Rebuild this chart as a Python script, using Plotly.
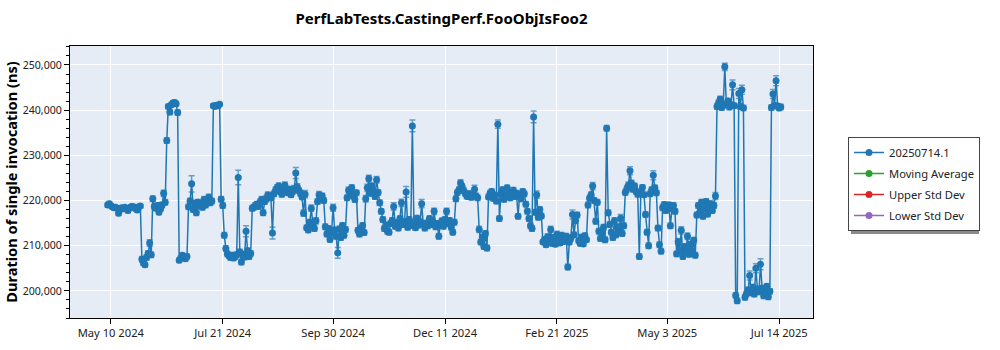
import pandas as pd
import plotly.graph_objects as go

# ---------------- data ----------------
series_name = "20250714.1"
start_date = "2024-05-08"

# daily mean durations, in thousands of ns
durations_k = [
    219.0, 219.3, 218.9, 218.6, 218.4, 218.5, 218.3, 217.2, 218.0, 218.4, 218.2, 218.5, 218.1, 217.8, 218.3, 218.6, 218.7, 218.5, 218.2, 217.9, 218.6, 218.8,
    207.0, 206.2, 205.8, 207.4, 208.3, 210.6, 208.0,
    220.4, 218.7, 218.3, 218.9, 217.4, 218.2, 219.0, 221.6, 219.6, 233.3,
    240.8, 239.6, 241.2, 241.6, 241.7, 241.4, 239.5,
    206.8, 207.3, 207.9, 207.5, 207.1, 207.6,
    218.6, 219.9, 223.7, 218.0, 219.4, 217.3, 219.6, 218.8, 219.3, 218.5, 220.2, 219.0, 219.8, 220.7, 219.5, 219.9,
    241.0, 240.8, 241.1, 241.0, 241.3,
    220.3, 218.9,
    212.3, 209.4, 208.2, 207.8, 207.4, 207.9, 207.3, 207.6, 208.0, 225.1, 208.6, 206.4, 208.1, 207.5, 213.2, 208.9, 207.6, 208.3,
    218.3, 218.5, 218.9, 219.2, 218.7, 219.6, 220.2, 217.3, 219.8, 220.4, 221.2,
    221.0, 220.6, 212.8, 221.5, 222.3, 222.8, 223.2, 222.0, 221.4, 222.6, 223.4, 222.1, 221.7, 222.5, 221.3, 222.0, 222.6, 226.1, 223.0, 222.2, 221.6, 220.8,
    217.2, 221.4, 214.0, 213.5, 215.2, 218.3, 214.6, 213.8, 215.5,
    219.8, 221.3, 220.4, 221.0, 220.0,
    214.2, 212.6, 213.8, 211.4, 212.9, 218.4, 213.5, 212.1, 208.4, 213.7, 211.8, 214.5, 212.3, 213.6,
    220.6, 222.3, 221.5, 222.8, 221.0, 220.2, 221.7,
    213.4, 212.6, 213.9, 214.5, 212.9,
    220.4, 222.8, 224.9, 221.6, 223.2, 222.0, 220.9, 224.6, 221.8, 219.5, 217.6,
    215.8, 213.8, 214.6, 213.2, 213.0, 214.9, 215.6, 218.7, 214.3, 215.1, 213.9, 216.0, 219.5, 214.7, 215.3, 221.9,
    214.1, 215.8, 214.5, 236.5, 215.2, 214.0, 216.1, 214.6, 215.3, 219.3, 214.8, 213.9, 215.0, 214.4, 216.0, 214.7,
    215.4, 217.6, 214.2, 214.9, 212.1, 214.6, 215.5, 214.3, 215.8, 217.6, 214.9, 215.6, 214.1, 213.0, 215.2,
    220.4, 221.8, 222.4, 223.9, 223.1, 222.2, 221.6, 221.0, 220.9, 221.5, 220.7, 221.3, 222.5, 221.0, 220.6,
    213.6, 210.8, 211.9, 209.8, 212.7, 209.5,
    220.8, 221.6, 222.0, 220.5, 221.2, 219.9, 236.9, 216.0, 221.5, 222.4, 220.3, 221.0, 222.8, 221.7, 220.6, 221.4, 222.3, 220.9, 221.6, 216.5, 221.2, 220.4, 222.0, 221.5,
    219.2, 217.6, 216.0, 214.4, 213.8, 238.5, 217.4, 221.3, 216.3, 218.0, 216.6,
    210.8, 211.4, 210.2, 212.0, 211.0, 213.6, 210.5, 211.8, 210.3, 212.5, 211.2, 210.6, 212.3, 210.9, 211.5, 212.1, 205.3, 210.8, 211.7, 216.9, 212.4, 215.6, 216.8, 211.1, 210.5, 211.9, 210.4, 212.2, 211.3,
    219.0, 220.5, 221.3, 223.2, 220.0, 215.4, 219.6,
    213.2, 211.6, 212.8, 214.1, 211.3, 236.0, 217.3, 214.7, 213.0, 211.8, 215.5, 212.4, 214.2, 213.1, 216.1, 212.7, 214.4,
    221.8, 222.6, 223.4, 226.6, 223.8, 222.5, 223.2, 222.0, 221.4, 207.6, 221.7, 222.9, 221.3,
    216.9, 213.0, 210.0, 221.5, 222.4, 225.6, 222.8, 221.7, 213.9, 210.2, 208.8,
    218.4, 219.1, 217.8, 218.7, 219.0, 214.4, 218.2, 218.9, 217.6,
    208.2, 210.9, 209.0, 213.4, 207.6, 209.8, 208.9, 212.1, 208.1, 210.3, 208.7, 211.2, 207.9,
    216.8, 218.9, 217.4, 219.6, 216.5, 218.2, 219.8, 217.0, 218.6, 219.3, 217.8, 218.9, 221.0,
    240.8, 241.6, 242.4, 240.6, 241.1, 249.6, 241.3, 242.0, 240.7, 241.2,
    245.6, 241.0, 199.0, 197.8, 243.7, 240.8, 244.5, 240.5,
    198.6, 199.4, 200.2, 203.4, 199.6, 200.8, 199.3, 205.0, 200.4, 199.8, 205.9, 200.6, 198.9, 199.5, 201.0, 198.7, 199.9,
    240.6, 243.6, 241.0, 246.5, 240.9, 240.5, 240.7,
]

# error bar half-widths, in thousands of ns
errors_k = [
    0.5, 0.5, 0.4, 0.4, 0.5, 0.4, 0.4, 0.5, 0.4, 0.4, 0.5, 0.4, 0.4, 0.5, 0.4, 0.4, 0.5, 0.4, 0.4, 0.5, 0.4, 0.4,
    0.6, 0.6, 0.5, 0.6, 0.6, 0.7, 0.6,
    0.6, 0.5, 0.5, 0.6, 0.5, 0.5, 0.6, 0.7, 0.6, 0.6,
    0.5, 0.6, 0.5, 0.5, 0.5, 0.5, 0.6,
    0.5, 0.5, 0.5, 0.5, 0.5, 0.5,
    0.6, 0.6, 1.8, 0.6, 0.6, 0.6, 0.6, 0.6, 0.6, 0.6, 0.7, 0.6, 0.6, 0.7, 0.6, 0.6,
    0.4, 0.4, 0.4, 0.4, 0.4,
    0.6, 0.6,
    0.6, 0.6, 0.6, 0.6, 0.6, 0.6, 0.6, 0.6, 0.6, 1.6, 0.6, 0.6, 0.6, 0.6, 1.2, 0.6, 0.6, 0.6,
    0.6, 0.6, 0.6, 0.6, 0.6, 0.7, 0.7, 0.6, 0.6, 0.7, 0.7,
    0.6, 0.6, 1.3, 0.6, 0.7, 0.7, 0.7, 0.6, 0.6, 0.6, 0.7, 0.6, 0.6, 0.6, 0.6, 0.6, 0.7, 1.2, 0.7, 0.6, 0.6, 0.6,
    0.7, 0.8, 0.6, 0.6, 0.6, 0.7, 0.6, 0.6, 0.7,
    0.6, 0.7, 0.6, 0.6, 0.6,
    0.6, 0.6, 0.6, 0.6, 0.6, 0.8, 0.6, 0.6, 1.2, 0.6, 0.6, 0.6, 0.6, 0.6,
    0.6, 0.7, 0.6, 0.7, 0.6, 0.6, 0.6,
    0.6, 0.6, 0.6, 0.6, 0.6,
    0.7, 0.8, 0.7, 0.6, 0.7, 0.6, 0.6, 0.7, 0.6, 0.6, 0.6,
    0.6, 0.6, 0.6, 0.6, 0.6, 0.6, 0.6, 0.8, 0.6, 0.6, 0.6, 0.6, 0.8, 0.6, 0.6, 1.2,
    0.6, 0.6, 0.6, 1.3, 0.6, 0.6, 0.6, 0.6, 0.6, 0.9, 0.6, 0.6, 0.6, 0.6, 0.6, 0.6,
    0.6, 0.7, 0.6, 0.6, 0.6, 0.6, 0.6, 0.6, 0.6, 0.7, 0.6, 0.6, 0.6, 0.6, 0.6,
    0.6, 0.6, 0.6, 0.7, 0.6, 0.6, 0.6, 0.6, 0.6, 0.6, 0.6, 0.6, 0.9, 0.6, 0.6,
    0.7, 0.6, 0.6, 0.6, 0.6, 0.6,
    0.6, 0.6, 0.6, 0.6, 0.6, 0.6, 0.9, 0.6, 0.6, 0.6, 0.6, 0.6, 0.6, 0.6, 0.6, 0.6, 0.6, 0.6, 0.6, 0.6, 0.6, 0.6, 0.6, 0.6,
    0.6, 0.6, 0.6, 0.6, 0.6, 1.3, 0.6, 0.8, 0.6, 0.6, 0.6,
    0.5, 0.6, 0.5, 0.6, 0.5, 0.7, 0.5, 0.6, 0.5, 0.7, 0.6, 0.5, 0.6, 0.5, 0.6, 0.6, 0.6, 0.6, 0.7, 1.0, 0.6, 0.7, 0.6, 0.6, 0.5, 0.6, 0.5, 0.6, 0.5,
    0.6, 0.6, 0.6, 0.8, 0.6, 0.6, 0.6,
    0.6, 0.6, 0.6, 0.6, 0.6, 0.6, 0.6, 0.6, 0.6, 0.6, 0.7, 0.6, 0.6, 0.6, 0.8, 0.6, 0.6,
    0.6, 0.7, 0.7, 0.9, 0.7, 0.6, 0.6, 0.6, 0.6, 0.6, 0.6, 0.6, 0.6,
    0.6, 0.6, 0.6, 0.6, 0.6, 1.0, 0.6, 0.6, 0.6, 0.6, 0.6,
    0.6, 0.6, 0.6, 0.6, 0.6, 0.6, 0.6, 0.6, 0.6,
    0.6, 0.7, 0.6, 0.8, 0.6, 0.6, 0.6, 0.7, 0.6, 0.6, 0.6, 0.6, 0.6,
    0.6, 0.6, 0.6, 0.6, 0.6, 0.6, 0.6, 0.6, 0.6, 0.6, 0.6, 0.6, 0.8,
    0.6, 0.6, 0.7, 0.6, 0.6, 0.8, 0.6, 0.6, 0.6, 0.6,
    1.1, 0.6, 0.6, 0.6, 1.1, 0.6, 1.0, 0.6,
    0.6, 0.6, 0.6, 1.0, 0.6, 0.6, 0.6, 1.0, 0.6, 0.6, 1.2, 0.6, 0.6, 0.6, 0.6, 0.6, 0.6,
    0.6, 1.0, 0.6, 1.1, 0.6, 0.6, 0.6,
]

tick_dates = ["2024-05-10", "2024-07-21", "2024-09-30", "2024-12-11", "2025-02-21", "2025-05-03", "2025-07-14"]
tick_labels = ["May 10 2024", "Jul 21 2024", "Sep 30 2024", "Dec 11 2024", "Feb 21 2025", "May 3 2025", "Jul 14 2025"]
y_ticks = [200000, 210000, 220000, 230000, 240000, 250000]

legend_names = ["Moving Average", "Upper Std Dev", "Lower Std Dev"]
legend_colors = ["#2ca02c", "#d62728", "#9467bd"]

title_text = "PerfLabTests.CastingPerf.FooObjIsFoo2"
y_title = "Duration of single invocation (ns)"

# ---------------- figure ----------------
n = min(len(durations_k), len(errors_k))
dates = pd.date_range(start_date, periods=n, freq="D")
y_vals = [v * 1000 for v in durations_k[:n]]
e_vals = [v * 1000 for v in errors_k[:n]]

FONT = "Noto Sans, Open Sans, sans-serif"
BLUE = "#1f77b4"
TICK_SIZE = 11.2

fig = go.Figure()
fig.add_trace(go.Scatter(
    x=dates, y=y_vals, name=series_name, mode="lines+markers", legendgroup="g0",
    line=dict(color=BLUE, width=1.5),
    marker=dict(color=BLUE, size=7),
    error_y=dict(type="data", array=e_vals, visible=True,
                 color="rgba(31,119,180,0.65)", thickness=1.5, width=3),
))
for i, (nm, col) in enumerate(zip(legend_names, legend_colors)):
    fig.add_trace(go.Scatter(
        x=[None], y=[None], name=nm, mode="lines+markers", legendgroup="g%d" % (i + 1),
        line=dict(color=col, width=1.5), marker=dict(color=col, size=7),
    ))

# legend drop shadow
fig.add_shape(type="rect", xref="paper", yref="paper",
              x0=(851 - 70) / 743, x1=(979 - 70) / 743,
              y0=(318 - 234) / 272, y1=(318 - 140) / 272,
              fillcolor="#8a8a8a", line=dict(width=0), layer="above")

fig.update_layout(
    width=1000, height=350,
    margin=dict(l=70, r=187, t=46, b=32),
    paper_bgcolor="white", plot_bgcolor="#e5ecf6",
    font=dict(family=FONT, size=TICK_SIZE, color="#222"),
    title=dict(text="<b>" + title_text + "</b>", x=0.5, xref="paper", xanchor="center",
               y=1 - 19 / 350, yref="container", yanchor="middle",
               font=dict(family=FONT, size=15, color="black")),
    showlegend=True,
    legend=dict(x=(848 - 70) / 743, y=(318 - 137) / 272, xanchor="left", yanchor="top",
                bgcolor="white", bordercolor="#444", borderwidth=1,
                font=dict(family=FONT, size=TICK_SIZE, color="#222"),
                tracegroupgap=2),
    xaxis=dict(
        type="date", automargin=False,
        range=["2024-04-13 18:00", "2025-08-04 18:00"],
        tickvals=tick_dates, ticktext=tick_labels,
        tickfont=dict(size=TICK_SIZE),
        showgrid=True, gridcolor="white", gridwidth=1,
        showline=True, linecolor="black", linewidth=1, mirror=True,
        ticks="outside", ticklen=5, tickcolor="black",
        zeroline=False,
    ),
    yaxis=dict(
        automargin=False,
        range=[194000, 254200],
        tickvals=y_ticks, tickformat=",",
        tickfont=dict(size=10.6),
        showgrid=True, gridcolor="white", gridwidth=1,
        showline=True, linecolor="black", linewidth=1, mirror=True,
        ticks="outside", ticklen=5, tickcolor="black",
        minor=dict(dtick=2000, tick0=200000, ticks="outside", ticklen=3, tickcolor="black", showgrid=False),
        zeroline=False,
        title=dict(text="<b>" + y_title + "</b>", font=dict(family=FONT, size=14.6, color="black"), standoff=1),
    ),
)

fig.write_html("out.html")
